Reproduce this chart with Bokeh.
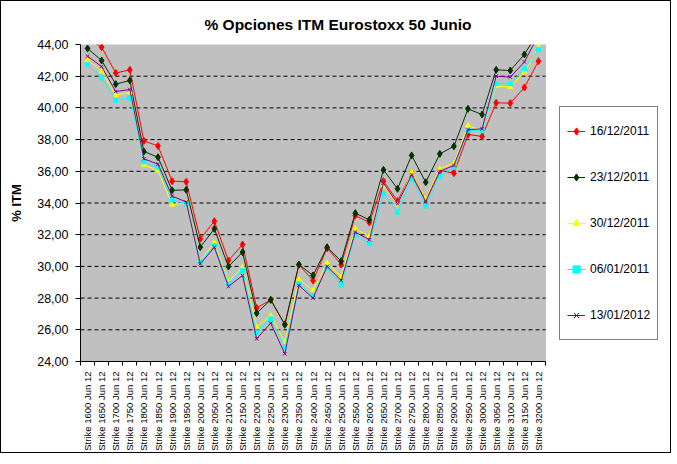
import math
from bokeh.plotting import figure
from bokeh.models import FixedTicker, Legend, LegendItem, Range1d, BoxAnnotation
from bokeh.embed import file_html
from bokeh.resources import INLINE

strikes = ["1600", "1650", "1700", "1750", "1800", "1850", "1900", "1950",
           "2000", "2050", "2100", "2150", "2200", "2250", "2300", "2350",
           "2400", "2450", "2500", "2550", "2600", "2650", "2700", "2750",
           "2800", "2850", "2900", "2950", "3000", "3050", "3100", "3150", "3200"]
categories = ["Strike %s Jun 12" % s for s in strikes]

s_16_12_2011 = [44.4, 43.83, 42.2, 42.4, 37.92, 37.6, 35.38, 35.34, 31.74, 32.85, 30.37,
                31.38, 27.38, 27.89, 26.35, 30.1, 29.11, 31.15, 30.12, 33.21, 32.77, 35.38,
                34.12, 35.9, 34.2, 36.05, 35.88, 38.32, 38.2, 40.32, 40.3, 41.29, 42.95]
s_23_12_2011 = [43.75, 42.99, 41.5, 41.73, 37.25, 36.89, 34.8, 34.83, 31.21, 32.37, 29.99,
                30.9, 27.05, 27.89, 26.32, 30.12, 29.43, 31.21, 30.33, 33.36, 32.94, 36.09,
                34.9, 37.0, 35.31, 37.1, 37.58, 39.94, 39.58, 42.4, 42.36, 43.37, 44.8]
s_30_12_2011 = [43.03, 42.32, 40.8, 40.99, 36.4, 36.05, 33.9, 34.0, 30.35, 31.49, 29.05,
                29.95, 26.17, 26.9, 25.22, 29.17, 28.48, 30.23, 29.32, 32.37, 31.91, 35.1,
                33.9, 35.95, 34.26, 36.16, 36.51, 38.89, 38.57, 41.37, 41.31, 42.25, 43.85]
s_06_01_2011 = [42.72, 41.9, 40.47, 40.64, 36.6, 36.26, 34.2, 33.95, 30.3, 31.32, 28.9,
                29.74, 25.85, 26.7, 24.9, 28.9, 28.16, 29.91, 28.84, 31.99, 31.43, 34.62,
                33.42, 35.53, 33.8, 35.67, 36.26, 38.57, 38.55, 41.52, 41.52, 42.47, 43.7]
s_13_01_2012 = [43.26, 42.61, 41.03, 41.16, 36.79, 36.45, 34.43, 34.07, 30.16, 31.21, 28.73,
                29.43, 25.43, 26.42, 24.49, 28.8, 28.0, 30.0, 29.11, 32.16, 31.68, 35.25,
                33.95, 35.78, 34.1, 36.0, 36.37, 38.62, 38.68, 42.0, 41.94, 42.9, 44.6]

series_names = ["16/12/2011", "23/12/2011", "30/12/2011", "06/01/2011", "13/01/2012"]
series_values = [s_16_12_2011, s_23_12_2011, s_30_12_2011, s_06_01_2011, s_13_01_2012]
series_colors = ["#FF0000", "#003300", "#FFFF00", "#00FFFF", "#800080"]
series_markers = ["diamond", "diamond", "triangle", "square", "x"]
series_sizes = [7, 7, 5, 4, 5]

y_ticks = [24, 26, 28, 30, 32, 34, 36, 38, 40, 42, 44]
y_tick_labels = ["24,00", "26,00", "28,00", "30,00", "32,00", "34,00",
                 "36,00", "38,00", "40,00", "42,00", "44,00"]

FONT = "Liberation Sans"
n = len(categories)
xs = list(range(n))
x_lo, x_hi = -0.5, n - 0.5
y_lo, y_hi = y_ticks[0], y_ticks[-1]

# frame spans the plot area plus the legend area on the right
W, H = 671, 453
BL, BR, BT, BB = 79, 10, 43, 93
plot_px = 465
frame_px = W - BL - BR
x_end = x_lo + n * frame_px / plot_px

p = figure(width=W, height=H, output_backend="svg", toolbar_location=None,
           x_range=Range1d(x_lo, x_end), y_range=Range1d(y_lo, y_hi),
           min_border_left=BL, min_border_right=BR, min_border_top=BT, min_border_bottom=BB,
           background_fill_color="white", border_fill_color="white",
           styles={"border": "1px solid black"})
p.outline_line_color = None
p.xgrid.grid_line_color = None
p.ygrid.grid_line_color = None

area = BoxAnnotation(left=x_lo, right=x_hi, bottom=y_lo, top=y_hi,
                     fill_color="#C0C0C0", fill_alpha=1.0,
                     line_color="#808080", line_width=1, level="underlay")
p.add_layout(area)

# dashed horizontal grid lines over the plot area
gy = y_ticks[1:-1]
p.segment(x0=[x_lo] * len(gy), x1=[x_hi] * len(gy), y0=gy, y1=gy,
          line_color="black", line_dash="4 3", line_width=1)

p.title.text = "% Opciones ITM Eurostoxx 50 Junio"
p.title.text_font = FONT
p.title.text_font_size = "15.5px"
p.title.text_font_style = "bold"
p.title.text_color = "black"
p.title.align = "left"
p.title.offset = 124
p.title.standoff = 24

xa = p.xaxis[0]
xa.bounds = (x_lo, x_hi)
xa.ticker = FixedTicker(ticks=xs, minor_ticks=[i - 0.5 for i in range(n + 1)])
xa.major_label_overrides = {i: c for i, c in enumerate(categories)}
xa.major_label_orientation = math.pi / 2
xa.major_label_text_font = FONT
xa.major_label_text_font_size = "9.5px"
xa.major_label_text_color = "black"
xa.major_label_standoff = 4
xa.major_tick_line_color = None
xa.minor_tick_line_color = "black"
xa.minor_tick_out = 4
xa.minor_tick_in = 0
xa.axis_line_color = "black"

ya = p.yaxis[0]
ya.ticker = FixedTicker(ticks=y_ticks)
ya.major_label_overrides = {t: l for t, l in zip(y_ticks, y_tick_labels)}
ya.major_label_text_font = FONT
ya.major_label_text_font_size = "12.5px"
ya.major_label_text_color = "black"
ya.major_label_standoff = 7
ya.major_tick_out = 5
ya.major_tick_in = 0
ya.major_tick_line_color = "black"
ya.minor_tick_line_color = None
ya.axis_line_color = "black"
ya.axis_label = "% ITM"
ya.axis_label_text_font = FONT
ya.axis_label_text_font_size = "13px"
ya.axis_label_text_font_style = "bold"
ya.axis_label_text_color = "black"
ya.axis_label_standoff = 10

items = []
for name, vals, col, mk, sz in zip(series_names, series_values, series_colors,
                                   series_markers, series_sizes):
    r1 = p.line(xs, vals, line_color=col, line_width=1)
    r2 = p.scatter(xs, vals, marker=mk, size=sz, fill_color=col, line_color=col)
    items.append(LegendItem(label=name, renderers=[r1, r2]))

legend = Legend(items=items, location=(479, 21), border_line_color="black",
                border_line_width=1, background_fill_color="white",
                label_text_font=FONT, label_text_font_size="12px",
                label_text_color="black",
                glyph_width=18, glyph_height=34, label_height=34,
                spacing=12, padding=7, margin=0, label_standoff=5)
p.add_layout(legend)

open("out.html", "w").write(file_html(p, INLINE))
